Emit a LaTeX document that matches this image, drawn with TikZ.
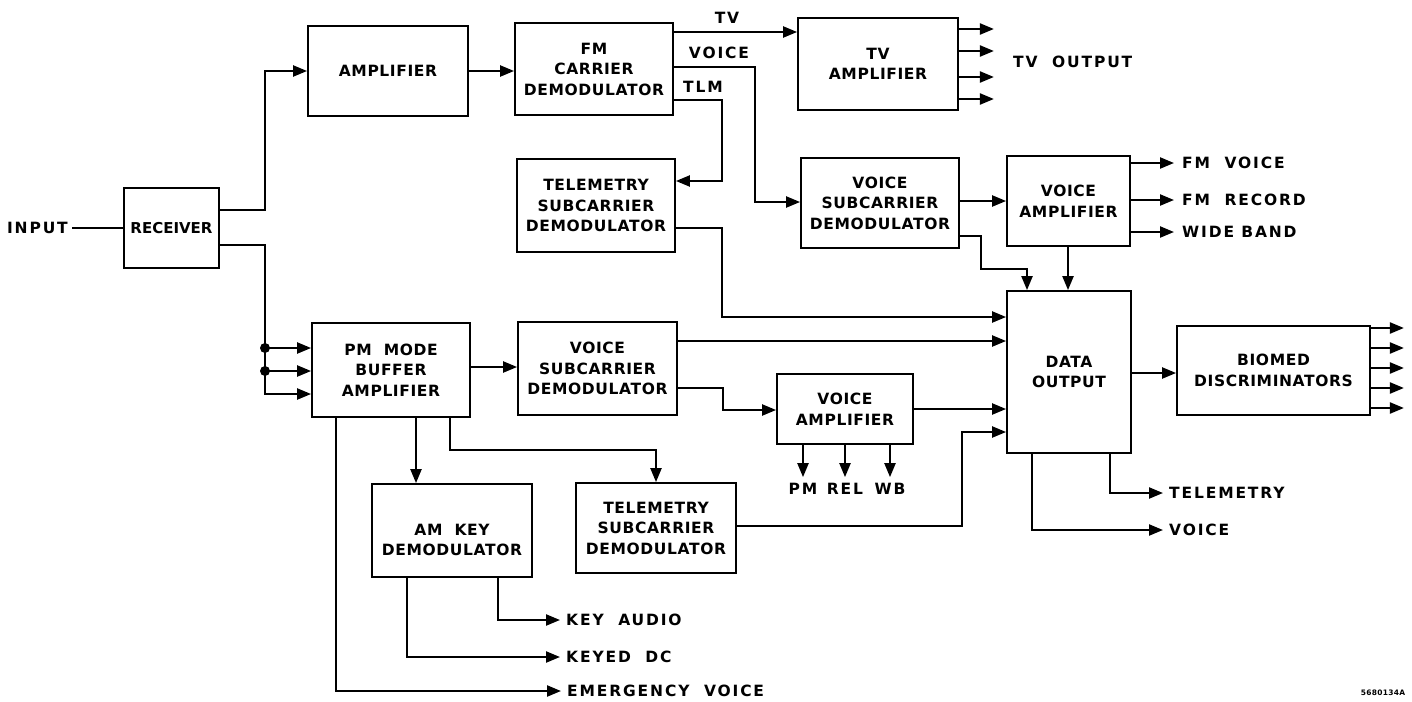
\documentclass[tikz,border=0pt]{standalone}
\usepackage{fontspec}
\newfontfamily\dv{DejaVu Sans}[LetterSpace=4]
\newfontfamily\dvn{DejaVu Sans}
\newfontfamily\dvw{DejaVu Sans}[LetterSpace=12]
\usetikzlibrary{arrows.meta,calc}
\begin{document}
\begin{tikzpicture}[x=1pt,y=-1pt,
  box/.style={draw, line width=1.8pt, inner sep=0pt, align=center,
    font=\dv\bfseries\fontsize{15.5}{20.5}\selectfont},
  lbl/.style={inner sep=0pt, font=\dvw\bfseries\fontsize{15.5}{18}\selectfont},
  wire/.style={line width=2.2pt},
  arr/.style={wire, -{Triangle[length=14pt,width=11pt]}},
  dot/.style={circle, fill, inner sep=0pt, minimum size=10pt}]
\useasboundingbox (0,0) rectangle (1412,701);
% boxes
\node[box,minimum width=95,minimum height=80,font=\dvn\bfseries\fontsize{15}{20}\selectfont] (rec) at (171.5,228) {RECEIVER};
\node[box,minimum width=160,minimum height=90] (amp) at (388,71) {AMPLIFIER};
\node[box,minimum width=158,minimum height=92] (fm) at (594,69) {FM\\CARRIER\\DEMODULATOR};
\node[box,minimum width=160,minimum height=92] (tva) at (878,64) {TV\\AMPLIFIER};
\node[box,minimum width=158,minimum height=93] (tel1) at (596,205.5) {TELEMETRY\\SUBCARRIER\\DEMODULATOR};
\node[box,minimum width=158,minimum height=90] (vs1) at (880,203) {VOICE\\SUBCARRIER\\DEMODULATOR};
\node[box,minimum width=123,minimum height=90] (va1) at (1068.5,201) {VOICE\\AMPLIFIER};
\node[box,minimum width=124,minimum height=162] (do) at (1069,372) {DATA\\OUTPUT};
\node[box,minimum width=193,minimum height=89] (bio) at (1273.5,370.5) {BIOMED\\DISCRIMINATORS};
\node[box,minimum width=158,minimum height=94] (pm) at (391,370) {PM\ \ MODE\\BUFFER\\AMPLIFIER};
\node[box,minimum width=159,minimum height=93] (vs2) at (597.5,368.5) {VOICE\\SUBCARRIER\\DEMODULATOR};
\node[box,minimum width=136,minimum height=70] (va2) at (845,409) {VOICE\\AMPLIFIER};
\node[box,minimum width=160,minimum height=90] (tel2) at (656,528) {TELEMETRY\\SUBCARRIER\\DEMODULATOR};
\node[box,minimum width=160,minimum height=93] (amk) at (452,530.5) {};
\node[box,draw=none] (amkt) at (452,540) {AM\ \ KEY\\DEMODULATOR};
% labels
\node[lbl,anchor=east] (input) at (68,228) {INPUT};
\node[lbl] (tvl) at (727,18) {TV};
\node[lbl] (vol) at (719,53) {VOICE};
\node[lbl] (tlm) at (703,87) {TLM};
\node[lbl,anchor=west] (tvo) at (1013,62) {TV\ \ OUTPUT};
\node[lbl,anchor=west] (fmv) at (1182,163) {FM\ \ VOICE};
\node[lbl,anchor=west] (fmr) at (1182,200) {FM\ \ RECORD};
\node[lbl,anchor=west] (wb) at (1182,232) {WIDE\ BAND};
\node[lbl] (pml) at (803,489) {PM};
\node[lbl] (rel) at (845,489) {REL};
\node[lbl] (wbl) at (890,489) {WB};
\node[lbl,anchor=west] (teo) at (1169,493) {TELEMETRY};
\node[lbl,anchor=west] (vo) at (1169,530) {VOICE};
\node[lbl,anchor=west] (kau) at (566,620) {KEY\ \ AUDIO};
\node[lbl,anchor=west] (kdc) at (566,657) {KEYED\ \ DC};
\node[lbl,anchor=west] (emv) at (567,691) {EMERGENCY\ \ VOICE};
\node[inner sep=0pt,font=\dv\bfseries\fontsize{7.5}{9}\selectfont] (id) at (1383,693) {5680134A};
% connectors
\draw[wire] ([xshift=4pt]input.east) -- (rec.west);
\draw[arr] (rec.east |- 0,210) -- (265,210) |- (amp.west);
\draw[arr] (rec.east |- 0,245) -- (265,245) |- (pm.west |- 0,394);
\draw[arr] (265,348) -- (pm.west |- 0,348);
\draw[arr] (265,371) -- (pm.west |- 0,371);
\node[dot] (d1) at (265,348) {};
\node[dot] (d2) at (265,371) {};
\draw[arr] (amp.east) -- (fm.west |- amp.east);
\draw[arr] (fm.east |- 0,32) -- (tva.west |- 0,32);
\draw[arr] (fm.east |- 0,67) -| (755,202) -- (vs1.west |- 0,202);
\draw[arr] (fm.east |- 0,100) -| (722,181) -- (tel1.east |- 0,181);
\foreach \y in {29,51,77,99} \draw[arr] (tva.east |- 0,\y) -- ++(35,0);
\draw[arr] (tel1.east |- 0,228) -| (722,317) -- (do.west |- 0,317);
\draw[arr] (vs1.east |- 0,201) -- (va1.west |- 0,201);
\draw[arr] (vs1.east |- 0,236) -| (981,269) -| (do.north -| 1027,0);
\draw[arr] (va1.south -| 1068,0) -- (do.north -| 1068,0);
\draw[arr] (va1.east |- fmv) -- ([xshift=-8pt]fmv.west);
\draw[arr] (va1.east |- fmr) -- ([xshift=-8pt]fmr.west);
\draw[arr] (va1.east |- wb) -- ([xshift=-8pt]wb.west);
\draw[arr] (do.east |- 0,373) -- (bio.west |- 0,373);
\foreach \y in {328,348,368,388,408} \draw[arr] (bio.east |- 0,\y) -- ++(33,0);
\draw[arr] (pm.east |- 0,367) -- (vs2.west |- 0,367);
\draw[arr] (vs2.east |- 0,341) -- (do.west |- 0,341);
\draw[arr] (vs2.east |- 0,388) -| (723,410) -- (va2.west |- 0,410);
\draw[arr] (va2.east |- 0,409) -- (do.west |- 0,409);
\draw[arr] (tel2.east |- 0,526) -| (962,432) -- (do.west |- 0,432);
\draw[arr] (va2.south -| pml) -- ([yshift=6pt]pml.north);
\draw[arr] (va2.south -| rel) -- ([yshift=6pt]rel.north);
\draw[arr] (va2.south -| wbl) -- ([yshift=6pt]wbl.north);
\draw[arr] (pm.south -| 416,0) -- (amk.north -| 416,0);
\draw[arr] (pm.south -| 450,0) -- (450,450) -| (tel2.north);
\draw[arr] (pm.south -| 336,0) |- ([xshift=-6pt]emv.west);
\draw[arr] (amk.south -| 498,0) |- ([xshift=-6pt]kau.west);
\draw[arr] (amk.south -| 407,0) |- ([xshift=-6pt]kdc.west);
\draw[arr] (do.south -| 1032,0) |- ([xshift=-6pt]vo.west);
\draw[arr] (do.south -| 1110,0) |- ([xshift=-6pt]teo.west);
\end{tikzpicture}
\end{document}
